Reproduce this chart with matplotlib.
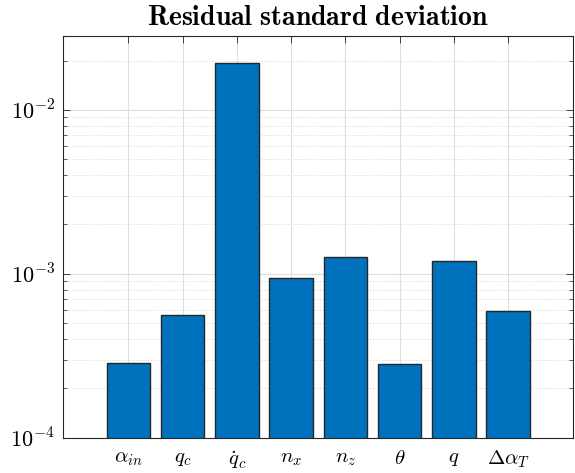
import matplotlib
matplotlib.use("Agg")
import matplotlib.pyplot as plt
import numpy as np
from matplotlib.ticker import LogLocator, FuncFormatter, NullFormatter

plt.rcParams['mathtext.fontset'] = 'cm'
plt.rcParams['font.family'] = 'DejaVu Serif'

# Residual standard deviation per signal
labels = [r'$\alpha_{in}$', r'$q_c$', r'$\dot{q}_c$', r'$n_x$', r'$n_z$',
          r'$\theta$', r'$q$', r'$\Delta\alpha_T$']
values = [2.87e-4, 5.58e-4, 1.92e-2, 9.41e-4, 1.26e-3, 2.83e-4, 1.20e-3, 5.92e-4]
positions = np.arange(1, len(values) + 1)

fig = plt.figure(figsize=(5.75, 4.73), dpi=100)
ax = fig.add_axes([0.110, 0.0746, 0.887, 0.8496])

ax.bar(positions, values, width=0.8, color='#0072BD', edgecolor='#262626',
       linewidth=1.0, zorder=3)

ax.set_yscale('log')
ax.set_ylim(1e-4, 2.83e-2)
ax.set_xlim(-0.2, 9.2)
ax.set_xticks(positions)
ax.set_xticklabels(labels, fontsize=15)

ax.yaxis.set_major_locator(LogLocator(base=10, numticks=10))
ax.yaxis.set_major_formatter(FuncFormatter(lambda v, p: r'$10^{%d}$' % round(np.log10(v))))
ax.yaxis.set_minor_locator(LogLocator(base=10, subs=np.arange(2, 10), numticks=10))
ax.yaxis.set_minor_formatter(NullFormatter())
ax.tick_params(axis='y', which='major', labelsize=16, pad=6)
ax.tick_params(axis='x', which='major', pad=8)

# MATLAB-like styling
ax.tick_params(which='both', direction='in', top=True, right=True, color='#262626')
ax.tick_params(which='major', length=5, width=0.6)
ax.tick_params(which='minor', length=3, width=0.5)
ax.tick_params(axis='x', which='minor', top=False, bottom=False)
for s in ax.spines.values():
    s.set_color('#262626')
    s.set_linewidth(0.8)

ax.grid(True, which='major', color='#dedede', linewidth=0.8, zorder=0)
ax.grid(True, which='minor', axis='y', color='#d0d0d0', linestyle=(0, (1, 2)),
        linewidth=0.7, zorder=0)
ax.set_axisbelow(True)

ax.set_title(r'$\mathbf{Residual\ standard\ deviation}$', fontsize=20, pad=8)

fig.savefig('out.png', dpi=100)
